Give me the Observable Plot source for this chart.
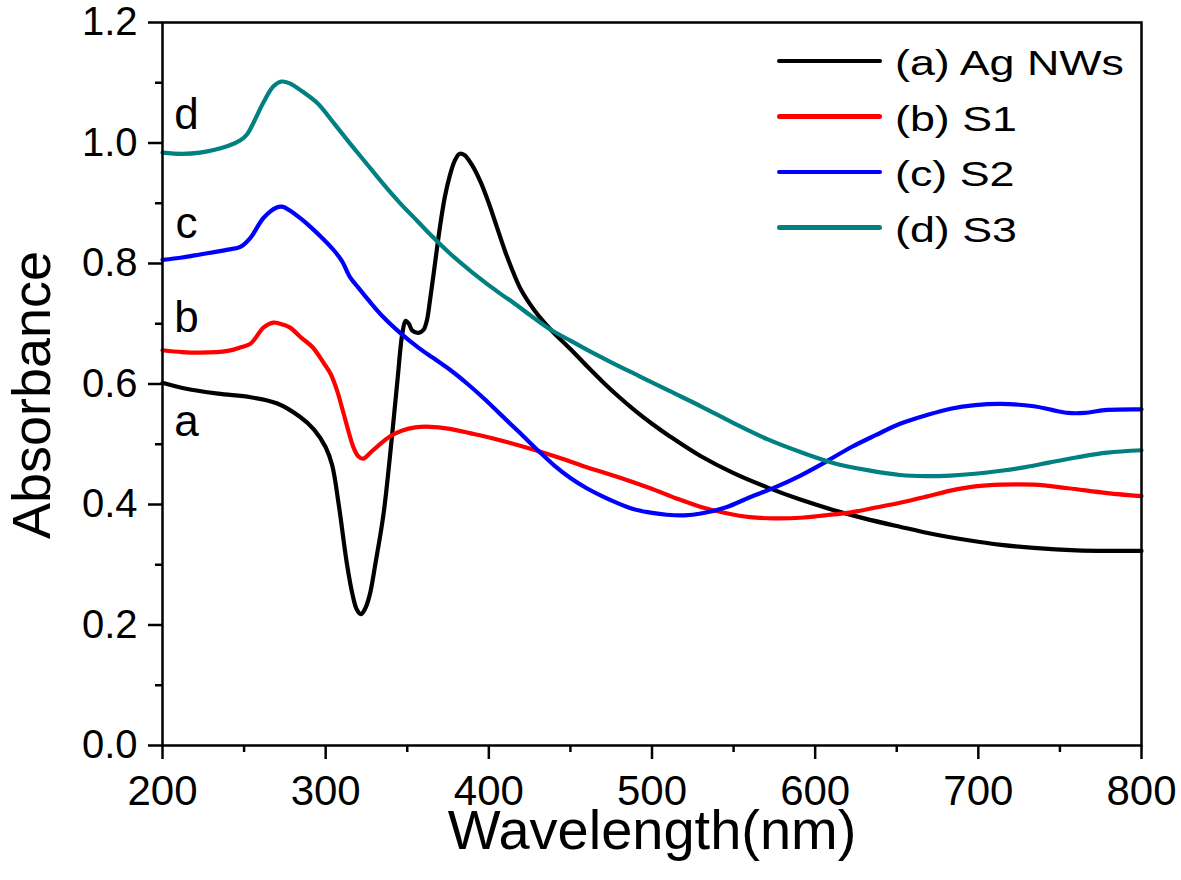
<!DOCTYPE html>
<html><head><meta charset="utf-8">
<script src="https://cdn.jsdelivr.net/npm/d3@7"></script>
<script src="https://cdn.jsdelivr.net/npm/@observablehq/plot@0.6"></script>
<style>
body{margin:0;background:#fff;font-family:"Liberation Sans",Arial,sans-serif;}
#wrap{position:relative;width:1181px;height:880px;}
#legend{position:absolute;left:777px;top:33px;}
.row{display:flex;align-items:center;height:55.6px;}
.swatch{width:105px;height:4.5px;border-radius:2.5px;flex:none;}
.lab{margin-left:13px;font-size:35px;line-height:1;transform:scaleX(1.28);transform-origin:left center;white-space:nowrap;position:relative;top:2px;color:#000;}
</style></head><body><div id="wrap"></div>
<script>
// (a) Ag NWs
const wlA  = [200,213,234,254,270,284,293,300,304,308,313,316.5,319,321.5,324,327,330.5,335.5,341,344,347,349,351,353,357,360,362,364,367,370,373,376,379,382,385,390,395,400,405,410,415,420,428,438,450,460,470,480,490,500,511,530,550,571,590,611,630,652,672,693,714,734,760,780,800];
const absA = [0.602,0.593,0.584,0.578,0.568,0.546,0.524,0.495,0.465,0.400,0.302,0.250,0.226,0.218,0.226,0.250,0.302,0.385,0.523,0.606,0.684,0.705,0.700,0.689,0.685,0.690,0.705,0.740,0.800,0.860,0.910,0.945,0.970,0.982,0.980,0.962,0.935,0.900,0.860,0.820,0.785,0.755,0.722,0.690,0.658,0.630,0.603,0.578,0.555,0.534,0.513,0.480,0.452,0.428,0.409,0.391,0.377,0.363,0.351,0.341,0.333,0.328,0.324,0.323,0.323];
// (b) S1
const wlB  = [200,212,223,240,248,254,262,268,272,278,285,292,299,303,307,311,317,320,323,327,332,340,347,355,364,375,389,405,425,445,460,480,499,515,530,545,560,575,591,606,622,637,652,668,683,698,714,734,755,779,800];
const absB = [0.656,0.653,0.652,0.655,0.661,0.667,0.694,0.702,0.700,0.694,0.677,0.661,0.634,0.617,0.589,0.551,0.495,0.480,0.476,0.485,0.497,0.514,0.523,0.528,0.529,0.526,0.518,0.508,0.493,0.476,0.462,0.445,0.427,0.410,0.396,0.386,0.379,0.377,0.378,0.382,0.387,0.395,0.403,0.413,0.423,0.430,0.433,0.433,0.427,0.419,0.414];
// (c) S2
const wlC  = [200,212,223,240,248,254,262,270,274,278,285,291,298,305,310,315,320,326,335,346,357,366,377,387,397,407,419,430,440,450,460,470,480,489,500,509,520,530,545,560,575,591,606,622,637,652,668,683,698,714,734,745,755,765,779,800];
const absC = [0.806,0.810,0.815,0.823,0.828,0.843,0.876,0.893,0.894,0.888,0.874,0.860,0.842,0.822,0.804,0.777,0.760,0.740,0.712,0.684,0.660,0.643,0.622,0.600,0.576,0.550,0.519,0.490,0.465,0.444,0.427,0.413,0.401,0.392,0.386,0.383,0.382,0.385,0.395,0.412,0.428,0.448,0.470,0.495,0.515,0.534,0.548,0.559,0.565,0.567,0.563,0.557,0.552,0.552,0.557,0.558];
// (d) S3
const wlD  = [200,212,223,240,248,252,256,262,268,273,278,286,295,305,315,325,335,345,356,366,376,390,407,413,425,438,450,460,475,493,511,530,550,571,591,611,632,652,668,683,698,714,729,744,760,779,800];
const absD = [0.984,0.982,0.984,0.995,1.005,1.015,1.035,1.068,1.094,1.102,1.099,1.085,1.066,1.033,0.999,0.966,0.933,0.902,0.871,0.843,0.817,0.785,0.750,0.739,0.715,0.690,0.672,0.657,0.636,0.612,0.588,0.563,0.535,0.508,0.487,0.469,0.457,0.449,0.447,0.448,0.451,0.456,0.462,0.470,0.478,0.486,0.490];

const seriesNames  = ["(a) Ag NWs", "(b) S1", "(c) S2", "(d) S3"];
const curveLetters = ["a", "b", "c", "d"];
const seriesColors = ["#000000", "#ff0000", "#0000ff", "#008080"];
const xTicks = [200, 300, 400, 500, 600, 700, 800];
const xMinorTicks = [250, 350, 450, 550, 650, 750];
const yTicks = [0, 0.2, 0.4, 0.6, 0.8, 1.0, 1.2];
const yMinorTicks = [0.1, 0.3, 0.5, 0.7, 0.9, 1.1];
const xLabel = "Wavelength(nm)";
const yLabel = "Absorbance";

const wls = [wlA, wlB, wlC, wlD];
const absVals = [absA, absB, absC, absD];
const data = [];
seriesNames.forEach((name, i) => {
  wls[i].forEach((w, j) => data.push({series: name, letter: curveLetters[i], wl: w, abs: absVals[i][j]}));
});

const letterDy = [53, -18, -22, -24];
const font = '"Liberation Sans", Arial, sans-serif';

const marks = [
  Plot.axisX({ticks: xTicks, tickSize: 14, tickPadding: 16, strokeWidth: 2.5, fontSize: 42, label: null, tickFormat: d3.format("d")}),
  Plot.axisX({ticks: xMinorTicks, tickSize: 7, strokeWidth: 2.5, label: null, tickFormat: () => ""}),
  Plot.axisY({ticks: yTicks, tickSize: 14, tickPadding: 11, strokeWidth: 2.5, fontSize: 40, label: null, tickFormat: d3.format(".1f")}),
  Plot.axisY({ticks: yMinorTicks, tickSize: 7, strokeWidth: 2.5, label: null, tickFormat: () => ""}),
  Plot.line(data, {x: "wl", y: "abs", z: "series", stroke: "series", strokeWidth: 4.2, curve: "catmull-rom"}),
  Plot.frame({strokeWidth: 2.5}),
  Plot.text([xLabel], {frameAnchor: "bottom", text: d => d, dy: 103, textAnchor: "middle", lineAnchor: "bottom", fontSize: 56}),
  Plot.text([yLabel], {frameAnchor: "left", text: d => d, rotate: -90, dx: -113, dy: 11, textAnchor: "middle", lineAnchor: "bottom", fontSize: 54})
];
seriesNames.forEach((name, i) => {
  marks.push(Plot.text(data.filter(d => d.series === name), Plot.selectFirst({
    x: "wl", y: "abs", text: "letter", dx: 24, dy: letterDy[i], lineAnchor: "bottom", fontSize: 44
  })));
});

const chart = Plot.plot({
  width: 1181, height: 880,
  marginLeft: 162, marginRight: 40, marginTop: 22, marginBottom: 135,
  style: {fontFamily: font, background: "#fff", color: "#000"},
  x: {domain: [200, 800]},
  y: {domain: [0, 1.2]},
  color: {domain: seriesNames, range: seriesColors},
  marks
});
const wrap = document.getElementById("wrap");
wrap.appendChild(chart);

// Legend (inside plot, top right)
const legend = document.createElement("div");
legend.id = "legend";
seriesNames.forEach((name, i) => {
  const row = document.createElement("div");
  row.className = "row";
  const sw = document.createElement("div");
  sw.className = "swatch";
  sw.style.background = seriesColors[i];
  const lab = document.createElement("span");
  lab.className = "lab";
  lab.textContent = name;
  row.appendChild(sw); row.appendChild(lab);
  legend.appendChild(row);
});
wrap.appendChild(legend);
</script></body></html>
